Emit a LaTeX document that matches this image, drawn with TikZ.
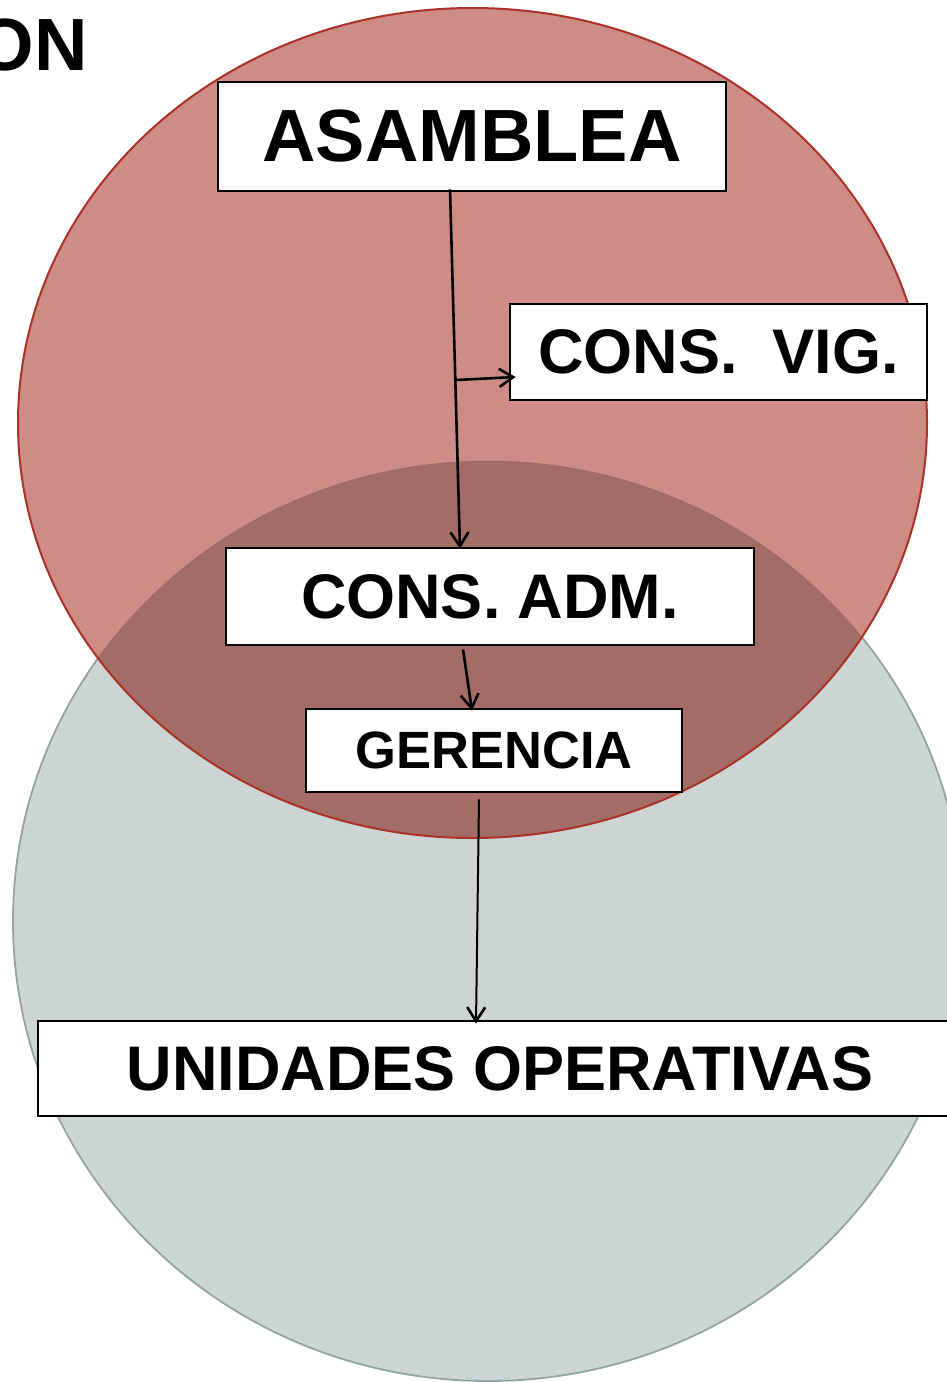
\documentclass[tikz,border=0pt]{standalone}
\usepackage{fontspec}
\setmainfont{Liberation Sans}
\usetikzlibrary{arrows.meta}
\definecolor{redfill}{RGB}{205,140,134}
\definecolor{overlapfill}{RGB}{164,108,103}
\definecolor{rededge}{RGB}{170,50,38}
\definecolor{grayfill}{RGB}{204,213,212}
\definecolor{grayedge}{RGB}{145,165,162}
\tikzset{
  box/.style={draw=black, line width=2.8pt, fill=white, inner sep=0pt, font=\bfseries},
  conn/.style={draw=black, line width=2.6pt, -{Straight Barb[length=14pt,width=18pt,line width=2.6pt]}},
}
\begin{document}
\begin{tikzpicture}[x=1pt,y=-1pt]
\useasboundingbox (0,0) rectangle (947,1382);
\begin{scope}
\clip (0,0) rectangle (947,1382);
% circles
\fill[grayfill] (488,921) ellipse [x radius=475, y radius=460];
\draw[grayedge, line width=1.8pt] (488,921) ellipse [x radius=475, y radius=460];
\fill[redfill] (472.5,423) ellipse [x radius=454.5, y radius=415];
\begin{scope}
\clip (472.5,423) ellipse [x radius=454.5, y radius=415];
\fill[overlapfill] (488,921) ellipse [x radius=475, y radius=460];
\draw[overlapfill!85!black, line width=1pt, opacity=0.4] (488,921) ellipse [x radius=475, y radius=460];
\end{scope}
\draw[rededge, line width=2pt] (472.5,423) ellipse [x radius=454.5, y radius=415];
% title fragment
\node[anchor=base east, inner sep=0pt, font=\bfseries\fontsize{74}{74}\selectfont] (title) at (88,70) {ON};
% boxes
\node[box, minimum width=508pt, minimum height=109pt, font=\bfseries\fontsize{74}{74}\selectfont] (asam) at (472,136.5) {ASAMBLEA};
\node[box, minimum width=417pt, minimum height=96pt, font=\bfseries\fontsize{63}{63}\selectfont] (vig) at (718.5,352) {CONS.\ \ VIG.};
\node[box, minimum width=528pt, minimum height=97pt, font=\bfseries\fontsize{63}{63}\selectfont] (adm) at (490,596.5) {CONS. ADM.};
\node[box, minimum width=376pt, minimum height=83pt, font=\bfseries\fontsize{52.5}{52.5}\selectfont] (ger) at (494,750.5) {GERENCIA};
\node[box, minimum width=924pt, minimum height=95pt, font=\bfseries\fontsize{63}{63}\selectfont] (uni) at (500,1068.5) {UNIDADES OPERATIVAS};
% connectors
\coordinate (br) at (456,380);
\draw[conn] ([xshift=-22pt,yshift=3pt]asam.south) -- ([xshift=-30pt,yshift=-2pt]adm.north);
\draw[conn] (br) -- ([xshift=7pt,yshift=-25pt]vig.west);
\draw[conn] ([xshift=-27pt,yshift=-3pt]adm.south) -- ([xshift=-22pt,yshift=-3pt]ger.north);
\draw[conn, line width=2pt] ([xshift=-15pt,yshift=-6pt]ger.south) -- ([xshift=-24pt,yshift=-4pt]uni.north);
\end{scope}
\end{tikzpicture}
\end{document}
